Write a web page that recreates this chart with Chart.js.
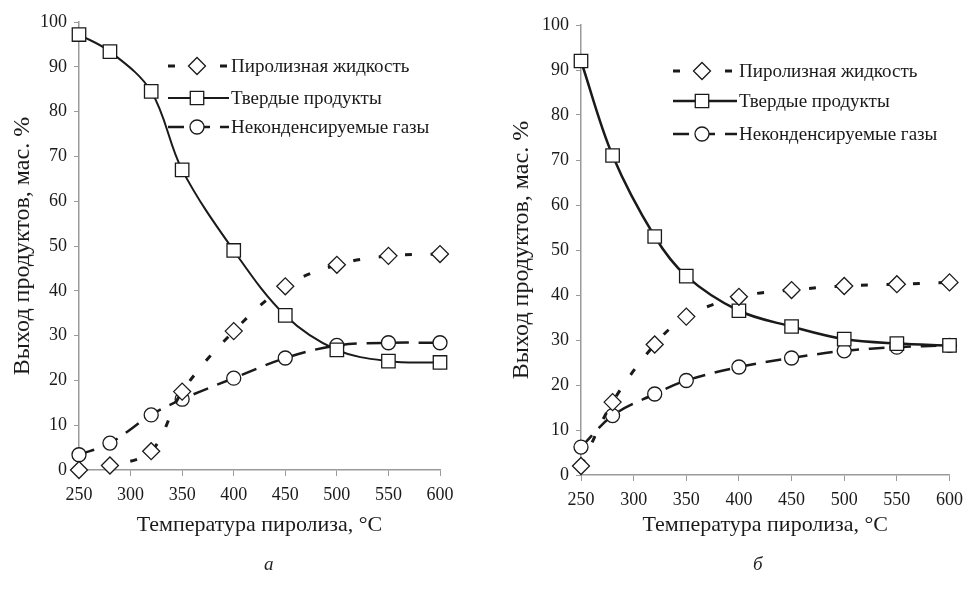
<!DOCTYPE html>
<html>
<head>
<meta charset="utf-8">
<script src="https://cdn.jsdelivr.net/npm/chart.js@4"></script>
<style>
    body { margin: 0; background: #fff; }
    .wrap { position: relative; width: 971px; height: 589px; }
    canvas { position: absolute; top: 0; }
    #chartA { left: 0; }
    #chartB { left: 490px; }
    .cap { position: absolute; top: 553px; font: italic 19px "Liberation Serif", serif; color: #222; }
</style>
</head>
<body>
<div class="wrap">
    <canvas id="chartA" width="480" height="560"></canvas>
    <canvas id="chartB" width="481" height="560"></canvas>
    <div class="cap" style="left: 264px;">а</div>
    <div class="cap" style="left: 753px;">б</div>
</div>
<script>
// Температура пиролиза, °C
const temps = [250, 280, 320, 350, 400, 450, 500, 550, 600];
const seriesNames = ["Пиролизная жидкость", "Твердые продукты", "Неконденсируемые газы"];

// Chart "а"
const liquidA = [0, 1, 4.2, 17.5, 31, 41, 45.8, 47.8, 48.2];
const solidA = [97.2, 93.4, 84.5, 67, 49, 34.5, 26.8, 24.3, 24];
const gasA = [3.4, 6, 12.3, 15.8, 20.5, 25, 27.8, 28.4, 28.4];

// Chart "б"
const liquidB = [2, 16.2, 29, 35.2, 39.6, 41.1, 42, 42.4, 42.8];
const solidB = [92, 71, 53, 44.2, 36.5, 33, 30.2, 29.2, 28.8];
const gasB = [6.2, 13.2, 18, 21, 24, 26, 27.6, 28.4, 28.8];

const xTicks = [250, 300, 350, 400, 450, 500, 550, 600];
const yTicks = [0, 10, 20, 30, 40, 50, 60, 70, 80, 90, 100];

const FONT = '"Liberation Serif", "DejaVu Serif", serif';
const INK = "#1a1a1a";
const AXIS = "#9a9a9a";

// legend drawn inside the plot area
const innerLegend = {
    id: "innerLegend",
    afterDatasetsDraw(chart, args, opts) {
        const ctx = chart.ctx;
        chart.data.datasets.forEach((ds, i) => {
            const y = opts.rows[i];
            ctx.save();
            ctx.strokeStyle = INK;
            ctx.lineWidth = ds.borderWidth;
            ctx.setLineDash(ds.borderDash || []);
            ctx.beginPath();
            ctx.moveTo(opts.x0, y);
            ctx.lineTo(opts.x1, y);
            ctx.stroke();
            ctx.setLineDash([]);
            ctx.lineWidth = 1.3;
            ctx.fillStyle = "#fff";
            Chart.helpers.drawPoint(ctx, {
                pointStyle: ds.pointStyle, radius: ds.pointRadius,
                borderWidth: 1.3, rotation: 0
            }, opts.xm, y);
            ctx.fillStyle = INK;
            ctx.font = "19px " + FONT;
            ctx.textBaseline = "middle";
            ctx.fillText(ds.label, opts.tx, y + 1);
            ctx.restore();
        });
    }
};

function makeDatasets(liquid, solid, gas, solidWidth) {
    const pts = arr => arr.map((v, i) => ({ x: temps[i], y: v }));
    const common = {
        borderColor: INK, pointBorderColor: INK, pointBackgroundColor: "#fff",
        pointBorderWidth: 1.3, tension: 0.35, fill: false, clip: false
    };
    return [
        { ...common, label: seriesNames[0], data: pts(liquid), borderWidth: 3,
          borderDash: [7, 19], pointStyle: "rectRot", pointRadius: 8.5 },
        { ...common, label: seriesNames[1], data: pts(solid), borderWidth: solidWidth,
          pointStyle: "rect", pointRadius: 9.5 },
        { ...common, label: seriesNames[2], data: pts(gas), borderWidth: 2.5,
          borderDash: [16, 10], pointStyle: "circle", pointRadius: 7 }
    ];
}

function makeChart(id, datasets, cfg) {
    new Chart(document.getElementById(id), {
        type: "line",
        data: { datasets },
        plugins: [innerLegend],
        options: {
            responsive: false,
            animation: false,
            layout: { padding: { left: 0, top: cfg.top, right: cfg.right, bottom: cfg.bottom } },
            plugins: {
                legend: { display: false },
                tooltip: { enabled: false },
                innerLegend: cfg.legend
            },
            scales: {
                x: {
                    type: "linear", min: 250, max: 600,
                    afterBuildTicks: s => { s.ticks = xTicks.map(v => ({ value: v })); },
                    afterFit: s => { s.height = cfg.xHeight; },
                    grid: { drawOnChartArea: false, color: AXIS, tickLength: 6 },
                    border: { color: AXIS, width: 1.5 },
                    ticks: { color: INK, font: { family: FONT, size: 18 }, padding: 8, maxRotation: 0 },
                    title: { display: true, text: "Температура пиролиза, °C", color: INK,
                             font: { family: FONT, size: 22 }, padding: { top: 0, bottom: 0 } }
                },
                y: {
                    min: 0, max: 100,
                    afterBuildTicks: s => { s.ticks = yTicks.map(v => ({ value: v })); },
                    afterFit: s => { s.width = cfg.yWidth; },
                    grid: { drawOnChartArea: false, color: AXIS, tickLength: 5 },
                    border: { color: AXIS, width: 1.5 },
                    ticks: { color: INK, font: { family: FONT, size: 18 }, padding: 7 },
                    title: { display: true, text: "Выход продуктов, мас. %", color: INK,
                             font: { family: FONT, size: 24 }, padding: { top: cfg.yTitlePad, bottom: 0 } }
                }
            }
        }
    });
}

makeChart("chartA", makeDatasets(liquidA, solidA, gasA, 2), {
    top: 22, right: 40, bottom: 22, yWidth: 79, xHeight: 68, yTitlePad: 8,
    legend: { rows: [66, 98, 127], x0: 168, x1: 229, xm: 197, tx: 231 }
});

makeChart("chartB", makeDatasets(liquidB, solidB, gasB, 2.5), {
    top: 25, right: 14, bottom: 22, yWidth: 91, xHeight: 63, yTitlePad: 17,
    legend: { rows: [71, 101, 134], x0: 183, x1: 247, xm: 212, tx: 249 }
});
</script>
</body>
</html>
